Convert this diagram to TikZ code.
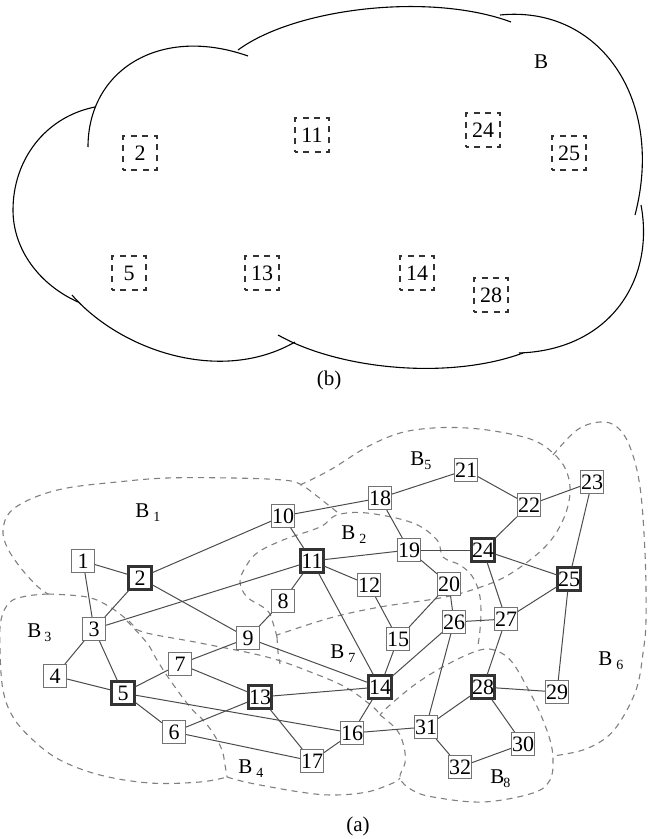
\documentclass[tikz,border=0pt]{standalone}
\usepackage{fontspec}
\setmainfont{Liberation Serif}
\usepackage{tikz}

\newcommand{\regionlab}[2]{B\kern#1\raisebox{-2.2pt}{\fontsize{7}{8}\selectfont #2}}

\begin{document}
\begin{tikzpicture}[x=0.5pt,y=-0.5pt,font=\fontsize{10.5}{12}\selectfont]
	\tikzstyle{vertex}=[rectangle,draw=black!55,line width=0.5pt,fill=white,minimum size=11.5pt,inner sep=0pt,font=\fontsize{11}{12}\selectfont]
	\tikzstyle{cutvertex}=[vertex,draw=black!80,line width=1.1pt]
	\tikzstyle{ghost}=[rectangle,draw=black!80,dash pattern=on 3pt off 2.7pt,dash phase=1.5pt,line width=0.6pt,minimum size=17pt,inner sep=0pt,font=\fontsize{11}{12}\selectfont]
	\tikzstyle{region}=[draw=black!50,dash pattern=on 3pt off 2.5pt,line width=0.55pt]
	\tikzstyle{cloud}=[draw=black,line width=0.55pt]
	\tikzstyle{link}=[draw=black!70,line width=0.5pt]
	\tikzstyle{rlabel}=[anchor=base west,inner sep=0pt]
	\useasboundingbox (0,0) rectangle (658,839);

	\draw[cloud] (88,147) .. controls (88,70) and (160,25) .. (248,56);
	\draw[cloud] (95,107) .. controls (45,117) and (13,160) .. (13,210) .. controls (13,250) and (40,285) .. (78,302);
	\draw[cloud] (72,295) .. controls (120,350) and (220,385) .. (295,342);
	\draw[cloud] (278,335) .. controls (340,370) and (450,380) .. (523,353);
	\draw[cloud] (519,353) .. controls (610,350) and (655,280) .. (641,205);
	\draw[cloud] (500,15) .. controls (600,5) and (665,100) .. (635,215);
	\draw[cloud] (238,50) .. controls (295,8) and (430,-8) .. (511,22);

	\node[ghost](t2) at (140,153){2};
	\node[ghost](t11) at (312,135){11};
	\node[ghost](t24) at (483,130){24};
	\node[ghost](t25) at (569,153){25};
	\node[ghost](t5) at (129,273){5};
	\node[ghost](t13) at (262,273){13};
	\node[ghost](t14) at (417,273){14};
	\node[ghost](t28) at (491,295){28};
	\node(bigB) at (541,62){B};
	\node(capb) at (329,380){(b)};

	\draw[region] plot[smooth,tension=0.6] coordinates {(337,512) (313,493) (300,484) (283,480) (233,478) (167,478) (117,482) (67,488) (33,498) (10,512) (3,530) (7,547) (20,567) (37,586) (48,594)};
	\draw[region] plot[smooth,tension=0.6] coordinates {(48,594) (87,597) (110,607) (130,622) (143,632) (200,643) (267,657) (313,673) (347,688) (373,707) (380,715)};
	\draw[region] plot[smooth,tension=0.6] coordinates {(48,594) (27,596) (10,602) (1,620) (0,650) (3,690) (13,717) (33,740) (60,760) (100,775) (150,783) (200,782) (227,777)};
	\draw[region] plot[smooth,tension=0.6] coordinates {(127,621) (147,643) (157,660) (170,680) (190,707) (203,720) (213,733) (222,750) (225,765) (227,777)};
	\draw[region] plot[smooth,tension=0.6] coordinates {(227,777) (250,783) (300,792) (333,795) (367,792) (393,783) (400,778)};
	\draw[region] plot[smooth,tension=0.6] coordinates {(380,715) (397,730) (404,747) (405,763) (400,778) (412,790) (433,797) (483,802) (533,793) (550,780) (553,760) (550,740) (540,713) (527,687) (512,662) (497,651) (480,650) (450,663) (417,683) (390,705) (380,715)};
	\draw[region] plot[smooth,tension=0.6] coordinates {(553,455) (577,430) (600,422) (617,427) (630,447) (640,487) (645,553) (646,620) (643,653) (637,687) (623,717) (607,737) (583,750) (553,756)};
	\draw[region] plot[smooth,tension=0.6] coordinates {(300,485) (330,470) (367,447) (400,433) (433,428) (467,428) (500,432) (533,440) (553,453) (566,470) (570,493) (563,520) (545,547) (510,574) (478,588) (440,598) (380,607) (330,618) (277,635)};
	\draw[region] plot[smooth,tension=0.6] coordinates {(277,637) (273,623) (267,610) (247,597) (240,582) (245,568) (257,553) (283,540) (320,527) (337,515) (367,513) (413,523) (437,540) (443,557) (460,565) (472,576) (479,592) (481,610) (480,630) (478,645)};
	\draw[region] plot[smooth,tension=0.6] coordinates {(277,637) (278,652) (280,664)};

	\node[vertex](v1) at (83,561){1};
	\node[cutvertex](v2) at (140,578){2};
	\node[vertex](v3) at (94,629){3};
	\node[vertex](v4) at (55,676){4};
	\node[cutvertex](v5) at (123,693){5};
	\node[vertex](v6) at (174,732){6};
	\node[vertex](v7) at (180,664){7};
	\node[vertex](v8) at (283,601){8};
	\node[vertex](v9) at (248,638){9};
	\node[vertex](v10) at (283,516){10};
	\node[cutvertex](v11) at (312,561){11};
	\node[vertex](v12) at (369,585){12};
	\node[cutvertex](v13) at (260,697){13};
	\node[cutvertex](v14) at (380,687){14};
	\node[vertex](v15) at (398,639){15};
	\node[vertex](v16) at (352,733){16};
	\node[vertex](v17) at (312,761){17};
	\node[vertex](v18) at (380,498){18};
	\node[vertex](v19) at (409,550){19};
	\node[vertex](v20) at (449,584){20};
	\node[vertex](v21) at (466,470){21};
	\node[vertex](v22) at (529,505){22};
	\node[vertex](v23) at (592,482){23};
	\node[cutvertex](v24) at (483,550){24};
	\node[cutvertex](v25) at (569,579){25};
	\node[vertex](v26) at (454,622){26};
	\node[vertex](v27) at (506,619){27};
	\node[cutvertex](v28) at (483,687){28};
	\node[vertex](v29) at (557,692){29};
	\node[vertex](v30) at (523,744){30};
	\node[vertex](v31) at (426,727){31};
	\node[vertex](v32) at (460,767){32};
	\path[link]
		(v1) edge (v2)
		(v1) edge (v3)
		(v2) edge (v3)
		(v2) edge (v10)
		(v2) edge (v9)
		(v3) edge (v11)
		(v3) edge (v4)
		(v3) edge (v5)
		(v4) edge (v5)
		(v5) edge (v7)
		(v5) edge (v6)
		(v5) edge (v16)
		(v7) edge (v9)
		(v7) edge (v13)
		(v6) edge (v13)
		(v6) edge (v17)
		(v13) edge (v17)
		(v13) edge (v14)
		(v9) edge (v8)
		(v9) edge (v14)
		(v8) edge (v11)
		(v10) edge (v11)
		(v10) edge (v18)
		(v11) edge (v19)
		(v11) edge (v12)
		(v11) edge (v14)
		(v12) edge (v15)
		(v15) edge (v14)
		(v15) edge (v20)
		(v18) edge (v21)
		(v18) edge (v19)
		(v19) edge (v24)
		(v19) edge (v20)
		(v20) edge (v26)
		(v21) edge (v22)
		(v22) edge (v24)
		(v22) edge (v23)
		(v23) edge (v25)
		(v24) edge (v25)
		(v24) edge (v27)
		(v25) edge (v27)
		(v25) edge (v29)
		(v26) edge (v27)
		(v26) edge (v14)
		(v26) edge (v31)
		(v27) edge (v28)
		(v14) edge (v16)
		(v16) edge (v31)
		(v16) edge (v17)
		(v28) edge (v31)
		(v28) edge (v29)
		(v28) edge (v30)
		(v31) edge (v32)
		(v32) edge (v30);

	\node[rlabel](lb1) at (135,517){\regionlab{2pt}{1}};
	\node[rlabel](lb2) at (341,539){\regionlab{2pt}{2}};
	\node[rlabel](lb3) at (27,637){\regionlab{1.5pt}{3}};
	\node[rlabel](lb4) at (238,773){\regionlab{2pt}{4}};
	\node[rlabel](lb5) at (410,465){\regionlab{0pt}{5}};
	\node[rlabel](lb6) at (598,665){\regionlab{2pt}{6}};
	\node[rlabel](lb7) at (330,658){\regionlab{2pt}{7}};
	\node[rlabel](lb8) at (490,783){\regionlab{-0.5pt}{8}};
	\node(capa) at (358,826){(a)};
\end{tikzpicture}
\end{document}
